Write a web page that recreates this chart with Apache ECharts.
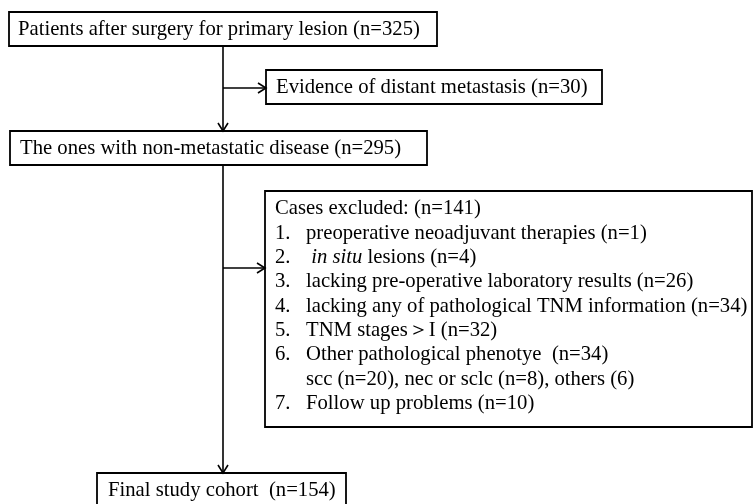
<!DOCTYPE html>
<html>
<head>
    <meta charset="utf-8">
    <title>Flow chart</title>
    <style>
        html, body { margin: 0; padding: 0; background: #fff; }
    </style>
</head>
<body>
<div id="main" style="width: 753px;height:504px;"></div>

<script src="https://cdn.jsdelivr.net/npm/echarts@6/dist/echarts.min.js"></script>
<script>
    // 流程图数据
    var stepNames = ['Patients after surgery for primary lesion', 'Evidence of distant metastasis',
        'The ones with non-metastatic disease', 'Cases excluded:', 'Final study cohort '];
    var stepCounts = [325, 30, 295, 141, 154];

    var reasonNames = ['preoperative neoadjuvant therapies', '{i|in situ} lesions',
        'lacking pre-operative laboratory results', 'lacking any of pathological TNM information',
        'TNM stages\uff1eI', 'Other pathological phenotye ', 'Follow up problems'];
    var reasonCounts = [1, 4, 26, 34, 32, 34, 10];

    var subtypeNames = ['scc', 'nec or sclc', 'others'];
    var subtypeCounts = [20, 8, 6];

    var fs = 20.7;
    var font = fs + 'px "Liberation Serif", "Times New Roman", serif';
    var line = { stroke: '#000', lineWidth: 1.6, fill: null };

    function n(v) { return '(n=' + v + ')'; }

    function box(x, y, w, h) {
        return { type: 'rect', shape: { x: x, y: y, width: w, height: h },
            style: { fill: '#fff', stroke: '#000', lineWidth: 1.8 }, z: 1 };
    }
    function txt(s, x, y) {
        return { type: 'text', x: x, y: y + 1, z: 2,
            style: { text: s, font: font, fill: '#000', verticalAlign: 'middle',
                rich: { i: { font: 'italic ' + fs + 'px "Liberation Serif", serif', fill: '#000' } } } };
    }
    function seg(x1, y1, x2, y2) {
        return { type: 'line', shape: { x1: x1, y1: y1, x2: x2, y2: y2 }, style: line, z: 0 };
    }
    function arrowRight(x, y) {
        return { type: 'polyline', shape: { points: [[x - 8, y - 5], [x, y], [x - 8, y + 5]] }, style: line, z: 3 };
    }
    function arrowDown(x, y) {
        return { type: 'polyline', shape: { points: [[x - 5, y - 8], [x, y], [x + 5, y - 8]] }, style: line, z: 3 };
    }

    var els = [];
    var cx = 223;

    // 主干
    els.push(seg(cx, 46, cx, 131), arrowDown(cx, 131));
    els.push(seg(cx, 88, 266, 88), arrowRight(266, 88));
    els.push(seg(cx, 165, cx, 473), arrowDown(cx, 473));
    els.push(seg(cx, 268, 265, 268), arrowRight(265, 268));

    // 方框
    els.push(box(9, 12, 428, 34), txt(stepNames[0] + ' ' + n(stepCounts[0]), 18, 29));
    els.push(box(266, 70, 336, 34), txt(stepNames[1] + ' ' + n(stepCounts[1]), 276, 87));
    els.push(box(10, 131, 417, 34), txt(stepNames[2] + ' ' + n(stepCounts[2]), 20, 148));
    els.push(box(265, 191, 487, 236));
    els.push(box(97, 473, 249, 40), txt(stepNames[4] + ' ' + n(stepCounts[4]), 108, 490));

    // 排除原因列表
    var y0 = 208, dy = 24.3, row = 0;
    els.push(txt(stepNames[3] + ' ' + n(stepCounts[3]), 275, y0));
    reasonNames.forEach(function (name, i) {
        row++;
        var yy = y0 + row * dy;
        var pre = i === 1 ? ' ' : '';
        els.push(txt((i + 1) + '.', 275, yy), txt(pre + name + ' ' + n(reasonCounts[i]), 306, yy));
        if (i === 5) {
            row++;
            var parts = subtypeNames.map(function (s, k) {
                return s + (k < 2 ? ' ' + n(subtypeCounts[k]) : ' (' + subtypeCounts[k] + ')');
            });
            els.push(txt(parts.join(', '), 306, y0 + row * dy));
        }
    });

    var myChart = echarts.init(document.getElementById('main'));
    myChart.setOption({
        backgroundColor: '#fff',
        animation: false,
        graphic: { elements: els }
    });
</script>
</body>
</html>
